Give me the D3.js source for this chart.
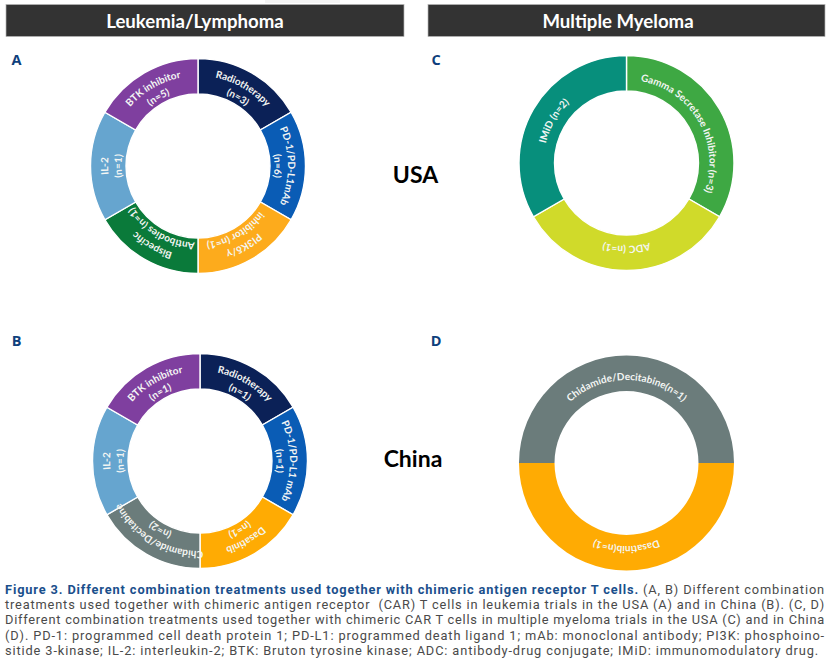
<!DOCTYPE html>
<html>
<head>
<meta charset="utf-8">
<script src="https://cdn.jsdelivr.net/npm/d3@7"></script>
<style>
html, body { margin: 0; padding: 0; background: #fff; }
svg { display: block; }
</style>
</head>
<body>
<svg width="831" height="662"></svg>
<script>
// the rings in the figure are cut in equal parts, the n in the label does not set the size
var labelsA = [["Radiotherapy", "(n=3)"], ["PD-1/PD-L1mAb", "(n=6)"], ["PI3Kδ/γ", "inhibitor (n=1)"],
               ["Bispecific", "Antibodies (n=1)"], ["IL-2", "(n=1)"], ["BTK inhibitor", "(n=5)"]]
var sharesA = [1, 1, 1, 1, 1, 1]
var coloursA = ["#0b2157", "#0a5cb5", "#fdab1c", "#0a7a3a", "#66a5cf", "#7f3f9f"]

var labelsB = [["Radiotherapy", "(n=1)"], ["PD-1/PD-L1 mAb", "(n=1)"], ["Dasatinib", "(n=1)"],
               ["Chidamide/Decitabine", "(n=2)"], ["IL-2", "(n=1)"], ["BTK inhibitor", "(n=1)"]]
var sharesB = [1, 1, 1, 1, 1, 1]
var coloursB = ["#0b2157", "#0a5cb5", "#ffab03", "#6b7c7b", "#66a5cf", "#7f3f9f"]

var labelsC = [["Gamma Secretase Inhibitor (n=3)"], ["ADC (n=1)"], ["IMiD (n=2)"]]
var sharesC = [1, 1, 1]
var coloursC = ["#3ea843", "#d0da2a", "#078f7c"]

var labelsD = [["Chidamide/Decitabine(n=1)"], ["Dasatinib(n=1)"]]
var sharesD = [1, 1]
var coloursD = ["#6b7c7b", "#ffab03"]

var headers = ["Leukemia/Lymphoma", "Multiple Myeloma"]
var countries = ["USA", "China"]
var panelLetters = ["A", "B", "C", "D"]

var captionBold = "Figure 3. Different combination treatments used together with chimeric antigen receptor T cells."
var captionLines = [
  " (A, B) Different combination",
  "treatments used together with chimeric antigen receptor  (CAR) T cells in leukemia trials in the USA (A) and in China (B). (C, D)",
  "Different combination treatments used together with chimeric CAR T cells in multiple myeloma trials in the USA (C) and in China",
  "(D). PD-1: programmed cell death protein 1; PD-L1: programmed death ligand 1; mAb: monoclonal antibody; PI3K: phosphoino-",
  "sitide 3-kinase; IL-2: interleukin-2; BTK: Bruton tyrosine kinase; ADC: antibody-drug conjugate; IMiD: immunomodulatory drug."
]

var svg = d3.select("svg")
var labelFont = "Lato, 'Open Sans', sans-serif"
var outerR = 107.5, innerR = 72

svg.append("rect").attr("x", 265).attr("y", 0).attr("width", 75).attr("height", 3).style("fill", "#f3f3f3")

// header bars
var headerX = [6, 428], headerW = [398, 397]
var headerMid = [195, 618]
headers.forEach(function (h, i) {
  svg.append("rect")
    .attr("x", headerX[i]).attr("y", 4.5)
    .attr("width", headerW[i]).attr("height", 32)
    .style("fill", "#333333").style("stroke", "#b5b5b5").style("stroke-width", 0.7)
  svg.append("text")
    .attr("x", headerMid[i]).attr("y", 28)
    .attr("text-anchor", "middle")
    .style("font-family", labelFont).style("font-weight", 700).style("font-size", "18.6px")
    .style("fill", "#fff")
    .text(h)
})

// panel letters
var letterX = [16.5, 436, 16.5, 436], letterY = [65, 65, 345.5, 345.5]
var letterIdx = [0, 2, 1, 3]
letterIdx.forEach(function (l, i) {
  svg.append("text")
    .attr("x", letterX[i]).attr("y", letterY[i])
    .attr("text-anchor", "middle")
    .style("font-family", "'Open Sans', sans-serif").style("font-weight", 700).style("font-size", "14.5px")
    .style("fill", "#0f3f7c")
    .text(panelLetters[l])
})

// USA / China
var countryX = [415.5, 413], countryY = [182.5, 467]
countries.forEach(function (c, i) {
  svg.append("text")
    .attr("x", countryX[i]).attr("y", countryY[i])
    .attr("text-anchor", "middle")
    .style("font-family", labelFont).style("font-weight", 700).style("font-size", "23px")
    .style("fill", "#000")
    .text(c)
})

var pathCount = 0

function drawRing(cx, cy, shares, colours, labels, start, gap) {
  var pie = d3.pie().sort(null).startAngle(start).endAngle(start + 2 * Math.PI)
  var arc = d3.arc().innerRadius(innerR).outerRadius(outerR)
  var g = svg.append("g").attr("transform", "translate(" + cx + "," + cy + ")")
  var slices = pie(shares)

  g.selectAll("path.slice")
    .data(slices)
    .enter()
    .append("path")
    .attr("class", "slice")
    .attr("d", arc)
    .style("fill", function (d, i) { return colours[i] })
    .style("stroke", gap ? "#fff" : "none")
    .style("stroke-width", gap)

  slices.forEach(function (d, i) {
    var mid = (d.startAngle + d.endAngle) / 2
    var lines = labels[i]
    lines.forEach(function (line, j) {
      // baseline radius, one line sits mid ring, two lines are stacked
      var r = lines.length == 1 ? 83 : (j == 0 ? 90 : 76.5)
      var p = d3.path()
      p.arc(0, 0, r, mid - Math.PI / 2 - 2.6, mid - Math.PI / 2 + 2.6)
      var id = "lab" + (pathCount++)
      g.append("path").attr("id", id).attr("d", p.toString()).style("fill", "none")
      g.append("text")
        .style("font-family", labelFont).style("font-weight", 700).style("font-size", "10px")
        .style("fill", "#f4f6f4")
        .attr("text-anchor", "middle")
        .append("textPath")
        .attr("href", "#" + id)
        .attr("startOffset", "50%")
        .text(line)
    })
  })
}

drawRing(198, 166, sharesA, coloursA, labelsA, 0, 1.4)
drawRing(200, 461, sharesB, coloursB, labelsB, 0, 1.4)
drawRing(626.5, 163, sharesC, coloursC, labelsC, 0, 1.4)
drawRing(626.5, 463, sharesD, coloursD, labelsD, -Math.PI / 2, 0)

// caption, justified by spreading the letters
var captionY = [593.5, 608.5, 624, 639.5, 654.5]
var captionRight = [825, 825, 825, 825, 819]
captionLines.forEach(function (line, i) {
  var t = svg.append("text")
    .attr("x", 5).attr("y", captionY[i])
    .attr("xml:space", "preserve")
    .style("white-space", "pre")
    .style("font-family", "Roboto, sans-serif").style("font-size", "12.8px")
    .style("fill", "#4a4a4a")
  if (i == 0) {
    t.append("tspan").style("font-weight", 700).style("fill", "#1a4f8c").text(captionBold)
  }
  t.append("tspan").text(line)
  var full = (i == 0 ? captionBold : "") + line
  var w = t.node().getComputedTextLength()
  t.style("letter-spacing", ((captionRight[i] - 5 - w) / full.length) + "px")
})
</script>
</body>
</html>
